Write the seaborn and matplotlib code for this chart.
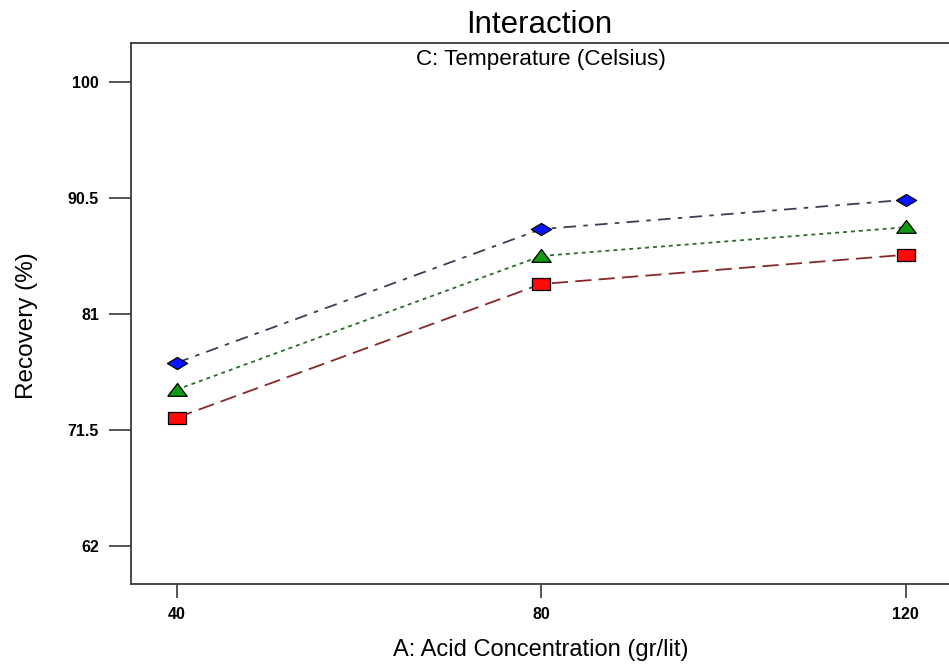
import matplotlib
matplotlib.use("Agg")
import matplotlib.pyplot as plt
import pandas as pd
import seaborn as sns

# Factor A levels and mean recovery for each temperature level
acid_conc = [40, 80, 120]
recovery_c_high = [77.0, 87.95, 90.35]
recovery_c_mid = [74.8, 85.75, 88.1]
recovery_c_low = [72.5, 83.45, 85.85]
y_ticks = [62, 71.5, 81, 90.5, 100]
y_tick_labels = ["62", "71.5", "81", "90.5", "100"]
x_ticks = [40, 80, 120]

sns.set_theme(style="white")
plt.rcParams["font.family"] = ["Liberation Sans", "DejaVu Sans"]

df = pd.DataFrame({
    "acid": acid_conc * 3,
    "recovery": recovery_c_high + recovery_c_mid + recovery_c_low,
    "level": ["C+"] * 3 + ["C0"] * 3 + ["C-"] * 3,
})

# flattened marker shapes
diamond = [(-1, 0), (0, 0.6), (1, 0), (0, -0.6), (-1, 0)]
triangle = [(-1, -0.6), (1, -0.6), (0, 0.72), (-1, -0.6)]
rect = [(-1, -0.68), (1, -0.68), (1, 0.68), (-1, 0.68), (-1, -0.68)]

styles = {
    "C+": dict(color="#3d3d55", marker=diamond, markerfacecolor="#0a14ff",
               markersize=14.5, linestyle=(0, (7, 4, 2.5, 4))),
    "C0": dict(color="#2c6a2c", marker=triangle, markerfacecolor="#0f9a0f",
               markersize=14, linestyle=(0, (2.2, 2.2))),
    "C-": dict(color="#862828", marker=rect, markerfacecolor="#ff0a0a",
               markersize=13.2, linestyle=(0, (9, 4))),
}

fig = plt.figure(figsize=(9.49, 6.65), dpi=100)
ax = fig.add_axes([131 / 949, 1 - 584 / 665, 822 / 949, 541 / 665])

for level in ["C-", "C0", "C+"]:
    st = styles[level]
    sns.lineplot(data=df[df["level"] == level], x="acid", y="recovery", ax=ax,
                 errorbar=None, legend=False, linewidth=1.3,
                 markeredgecolor="black", markeredgewidth=0.9, **st)

ax.set_xlim(35, 125.2)
ax.set_ylim(58.89, 103.19)
ax.set_xticks(x_ticks)
ax.set_xticklabels([str(v) for v in x_ticks])
ax.set_yticks(y_ticks)
ax.set_yticklabels(y_tick_labels)

for side in ["left", "bottom", "top", "right"]:
    ax.spines[side].set_color("#3a3a3a")
    ax.spines[side].set_linewidth(1.3)

ax.tick_params(axis="y", which="major", direction="out", length=16, width=1.2,
               color="#3a3a3a", pad=7, labelsize=11.5, labelcolor="black")
ax.tick_params(axis="x", which="major", direction="out", length=10, width=1.2,
               color="#3a3a3a", pad=6.5, labelsize=11.5, labelcolor="black")
ax.tick_params(left=True, bottom=True)
for lab in ax.get_xticklabels() + ax.get_yticklabels():
    lab.set_fontweight("bold")

ax.set_xlabel("")
ax.set_ylabel("")
fig.text(27 / 949, 1 - 326 / 665, "Recovery (%)", rotation=90, ha="center",
         va="center", fontsize=17.5, color="black")
fig.text(541 / 949, 1 - 650 / 665, "A: Acid Concentration (gr/lit)", ha="center",
         va="center", fontsize=17, color="black")
fig.text(539 / 949, 1 - 25 / 665, "Interaction", ha="center", va="center",
         fontsize=22.5, color="black")
fig.text(541 / 949, 1 - 60 / 665, "C: Temperature (Celsius)", ha="center",
         va="center", fontsize=16.2, color="black")

fig.savefig("out.png", dpi=100, facecolor="white")
